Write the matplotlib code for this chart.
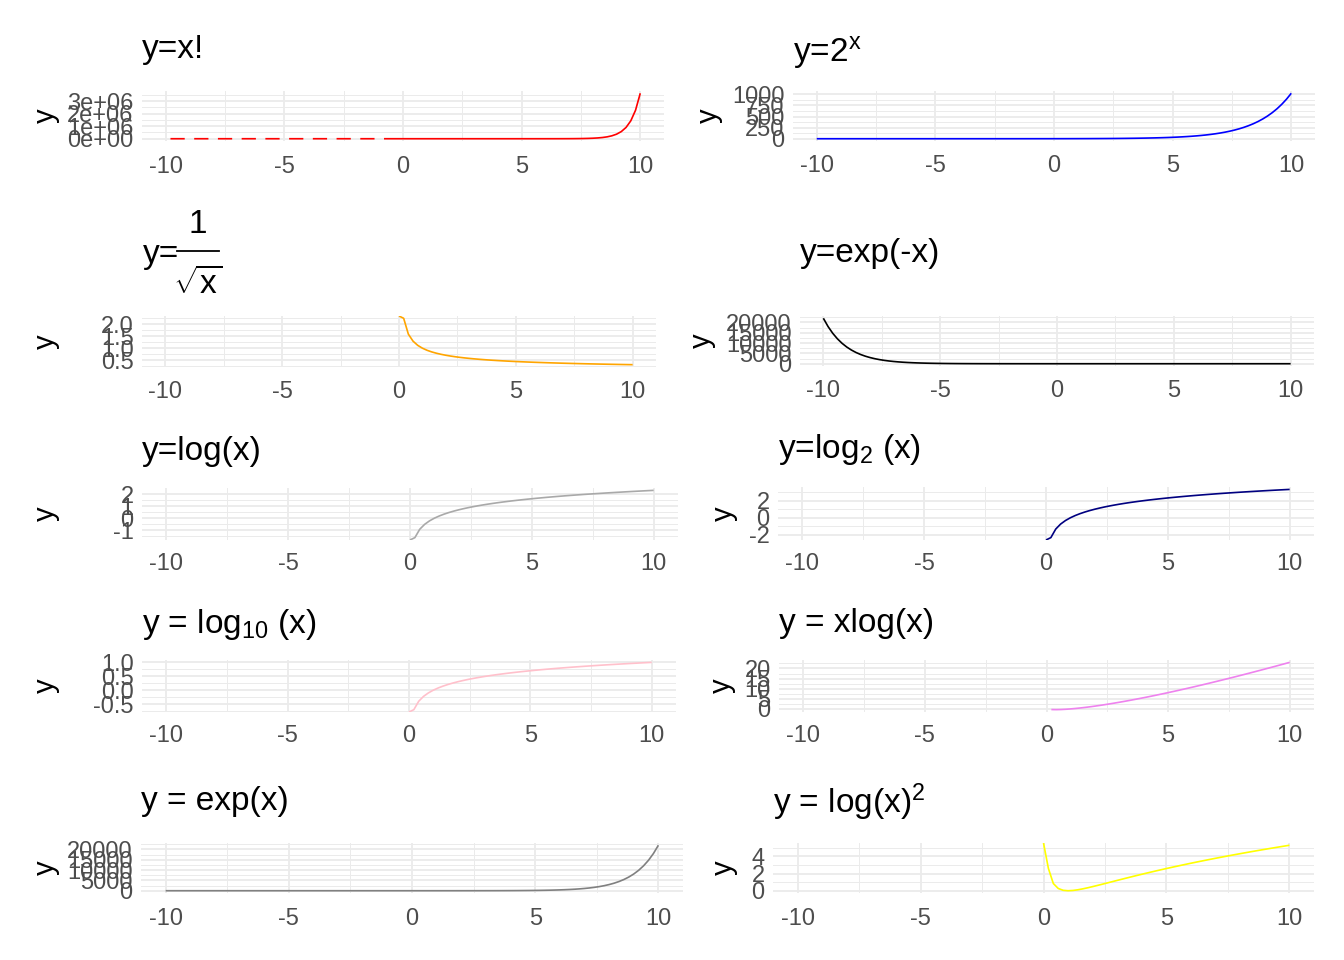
import math
import numpy as np
import matplotlib
matplotlib.use('Agg')
import matplotlib.pyplot as plt

plt.rcParams['font.family'] = ['Liberation Sans', 'DejaVu Sans']
plt.rcParams['mathtext.fontset'] = 'custom'
plt.rcParams['mathtext.rm'] = 'Liberation Sans'
plt.rcParams['mathtext.it'] = 'Liberation Sans'
plt.rcParams['mathtext.sf'] = 'Liberation Sans'

# x grid of the curves, -10..10 by 0.2
x = np.round(np.arange(-10, 10.01, 0.2), 1)

with np.errstate(all='ignore'):
    y_fact = np.array([math.gamma(v + 1) if not (v < 0 and v == int(v)) else np.nan for v in x])
    y_pow2 = 2.0 ** x
    y_invsqrt = np.where(x >= 0, 1 / np.sqrt(np.abs(x)), np.nan)
    y_expneg = np.exp(-x)
    y_log = np.where(x >= 0, np.log(np.abs(x)), np.nan)
    y_log2 = np.where(x >= 0, np.log2(np.abs(x)), np.nan)
    y_log10 = np.where(x >= 0, np.log10(np.abs(x)), np.nan)
    y_xlog = np.where(x > 0, x * np.log(np.abs(x)), np.nan)
    y_exp = np.exp(x)
    y_logsq = np.where(x >= 0, np.log(np.abs(x)) ** 2, np.nan)

# the 1/sqrt(x) title is drawn by hand below (None here)
titles = ['y=x!', 'y=$2^x$', None, 'y=exp(-x)', 'y=log(x)',
          r'y=log$_2$ (x)', r'y = log$_{10}$ (x)', 'y = xlog(x)', 'y = exp(x)', r'y = log(x)$^2$']
series = [y_fact, y_pow2, y_invsqrt, y_expneg, y_log, y_log2, y_log10, y_xlog, y_exp, y_logsq]
colors = ['red', 'blue', 'orange', 'black', 'darkgray', 'navy', 'pink', 'violet', 'gray', 'yellow']
yticks = [[0, 1e6, 2e6, 3e6], [0, 250, 500, 750, 1000], [0.5, 1.0, 1.5, 2.0],
          [0, 5000, 10000, 15000, 20000], [-1, 0, 1, 2], [-2, 0, 2], [-0.5, 0.0, 0.5, 1.0],
          [0, 5, 10, 15, 20], [0, 5000, 10000, 15000, 20000], [0, 2, 4]]
ylabels = [['0e+00', '1e+06', '2e+06', '3e+06'], ['0', '250', '500', '750', '1000'],
           ['0.5', '1.0', '1.5', '2.0'], ['0', '5000', '10000', '15000', '20000'],
           ['-1', '0', '1', '2'], ['-2', '0', '2'], ['-0.5', '0.0', '0.5', '1.0'],
           ['0', '5', '10', '15', '20'], ['0', '5000', '10000', '15000', '20000'], ['0', '2', '4']]
xticks = [-10, -5, 0, 5, 10]
xlabels = ['-10', '-5', '0', '5', '10']

W, H = 1344, 960
# panel boxes in pixels: left, right, top, bottom
boxes = [(142, 664, 91, 141), (793, 1315, 91, 141),
         (142, 656, 316, 367), (800, 1314, 316, 366),
         (142, 678, 488, 540), (778, 1314, 487, 540),
         (142, 676, 660, 712), (779, 1314, 660, 712),
         (141, 683, 843, 893), (773, 1314, 843, 893)]
title_base = [58, 62, 263, 262, 460, 458, 633, 632, 810, 813]
ylab_x = [46, 709, 46, 702, 46, 724, 46, 722, 46, 724]
xpads = [11, 10, 10, 10, 9, 9, 9, 9, 11, 11]

fig = plt.figure(figsize=(W / 100, H / 100), dpi=100)

for i in range(10):
    l, r, t, b = boxes[i]
    ax = fig.add_axes([l / W, 1 - b / H, (r - l) / W, (b - t) / H])
    yv = series[i].copy()
    fin = yv[np.isfinite(yv)]
    lo, hi = fin.min(), fin.max()
    pad = 0.05 * (hi - lo)
    ylo, yhi = lo - pad, hi + pad
    yv[yv == np.inf] = yhi
    yv[yv == -np.inf] = ylo
    ax.plot(x, yv, color=colors[i], lw=1.2, solid_capstyle='butt')
    ax.set_xlim(-11, 11)
    ax.set_ylim(ylo, yhi)

    ax.set_xticks(xticks)
    ax.set_xticklabels(xlabels)
    ax.set_xticks([-7.5, -2.5, 2.5, 7.5], minor=True)
    yt = yticks[i]
    step = yt[1] - yt[0]
    ax.set_yticks(yt)
    ax.set_yticklabels(ylabels[i])
    mins = [v + step / 2 for v in [yt[0] - step] + yt]
    ax.set_yticks([m for m in mins if ylo <= m <= yhi], minor=True)
    ax.grid(which='major', color='#EBEBEB', lw=1.3)
    ax.grid(which='minor', color='#EBEBEB', lw=0.7)
    ax.set_axisbelow(True)
    ax.tick_params(which='both', length=0, labelsize=17, labelcolor='#4D4D4D')
    ax.tick_params(axis='x', pad=xpads[i])
    ax.tick_params(axis='y', pad=6)
    for s in ax.spines.values():
        s.set_visible(False)

    if titles[i] is not None:
        fig.text(l / W, 1 - title_base[i] / H, titles[i], fontsize=24, ha='left', va='baseline')
    fig.text(ylab_x[i] / W, 1 - ((t + b) / 2) / H, 'y', fontsize=21, rotation=90,
             ha='center', va='center')

# y = 1/sqrt(x) title, built as in plotmath (full size numerator and denominator)
fig.text(143 / W, 1 - 263 / H, 'y=', fontsize=24, ha='left', va='baseline')
fig.text(198 / W, 1 - 233 / H, '1', fontsize=24, ha='center', va='baseline')
fig.add_artist(plt.Line2D([177 / W, 219 / W], [1 - 251 / H, 1 - 251 / H], color='black', lw=1.3))
fig.text(198 / W, 1 - 294 / H, r'$\sqrt{x}$', fontsize=24, ha='center', va='baseline')

fig.savefig('out.png', dpi=100)
